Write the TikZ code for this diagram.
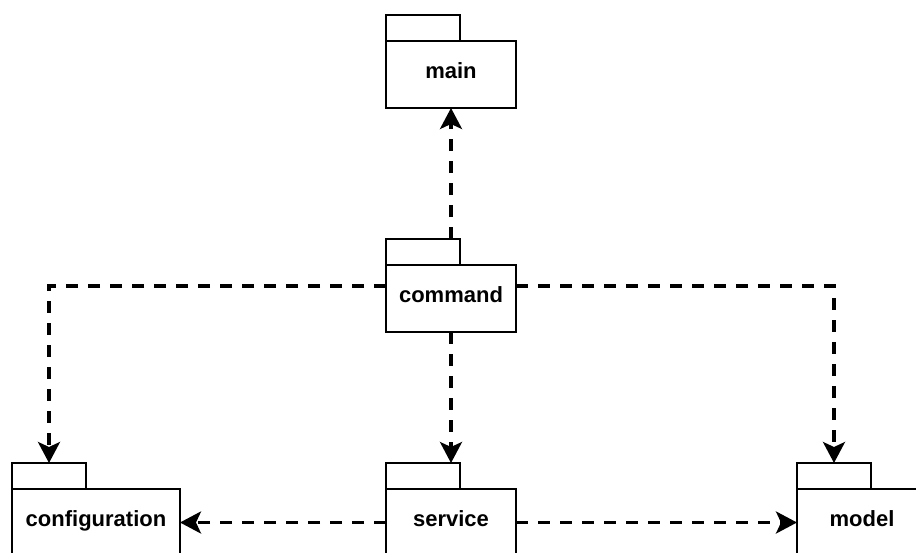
\documentclass[tikz,border=0pt]{standalone}
\usepackage{fontspec}
\setmainfont{Liberation Sans}
\usetikzlibrary{positioning,arrows.meta}

\begin{document}
\begin{tikzpicture}[x=1pt, y=-1pt,
                    pkg/.style = {draw, line width=1.5pt, minimum width=130pt,
                    minimum height=67pt, inner sep=0pt, outer sep=0pt,
                    text height=16pt, text depth=8pt,
                    font=\fontsize{22}{26}\selectfont\bfseries},
                    pkgtab/.style = {draw, line width=1.5pt, minimum width=74pt,
                    minimum height=26pt, inner sep=0pt, outer sep=0pt,
                    anchor=south west},
                    dep/.style = {draw, line width=3.2pt, dash pattern=on 12pt off 10pt,
                    -{Stealth[length=21pt,width=22pt,inset=5pt]}}]
  \clip (0,0) rectangle (916,552);
  \node[pkg] (command) at (451,298.5) {command};
  \node[pkg, above=157pt of command] (main) {main};
  \node[pkg, below=157pt of command] (service) {service};
  \node[pkg, minimum width=168pt, left=206pt of service] (config) {configuration};
  \node[pkg, right=281pt of service] (model) {model};
  \foreach \p in {main,command,config,service,model}
    \node[pkgtab] (\p tab) at (\p.north west) {};
  \draw[dep] (command.north |- commandtab.north) -- (main.south);
  \draw[dep] ([yshift=12.5pt]command.west) -| (configtab.north);
  \draw[dep] ([yshift=12.5pt]command.east) -| (modeltab.north);
  \draw[dep] (command.south) -- (service.north |- servicetab.north);
  \draw[dep] (service.west) -- (config.east);
  \draw[dep] (service.east) -- (model.west);
\end{tikzpicture}
\end{document}
